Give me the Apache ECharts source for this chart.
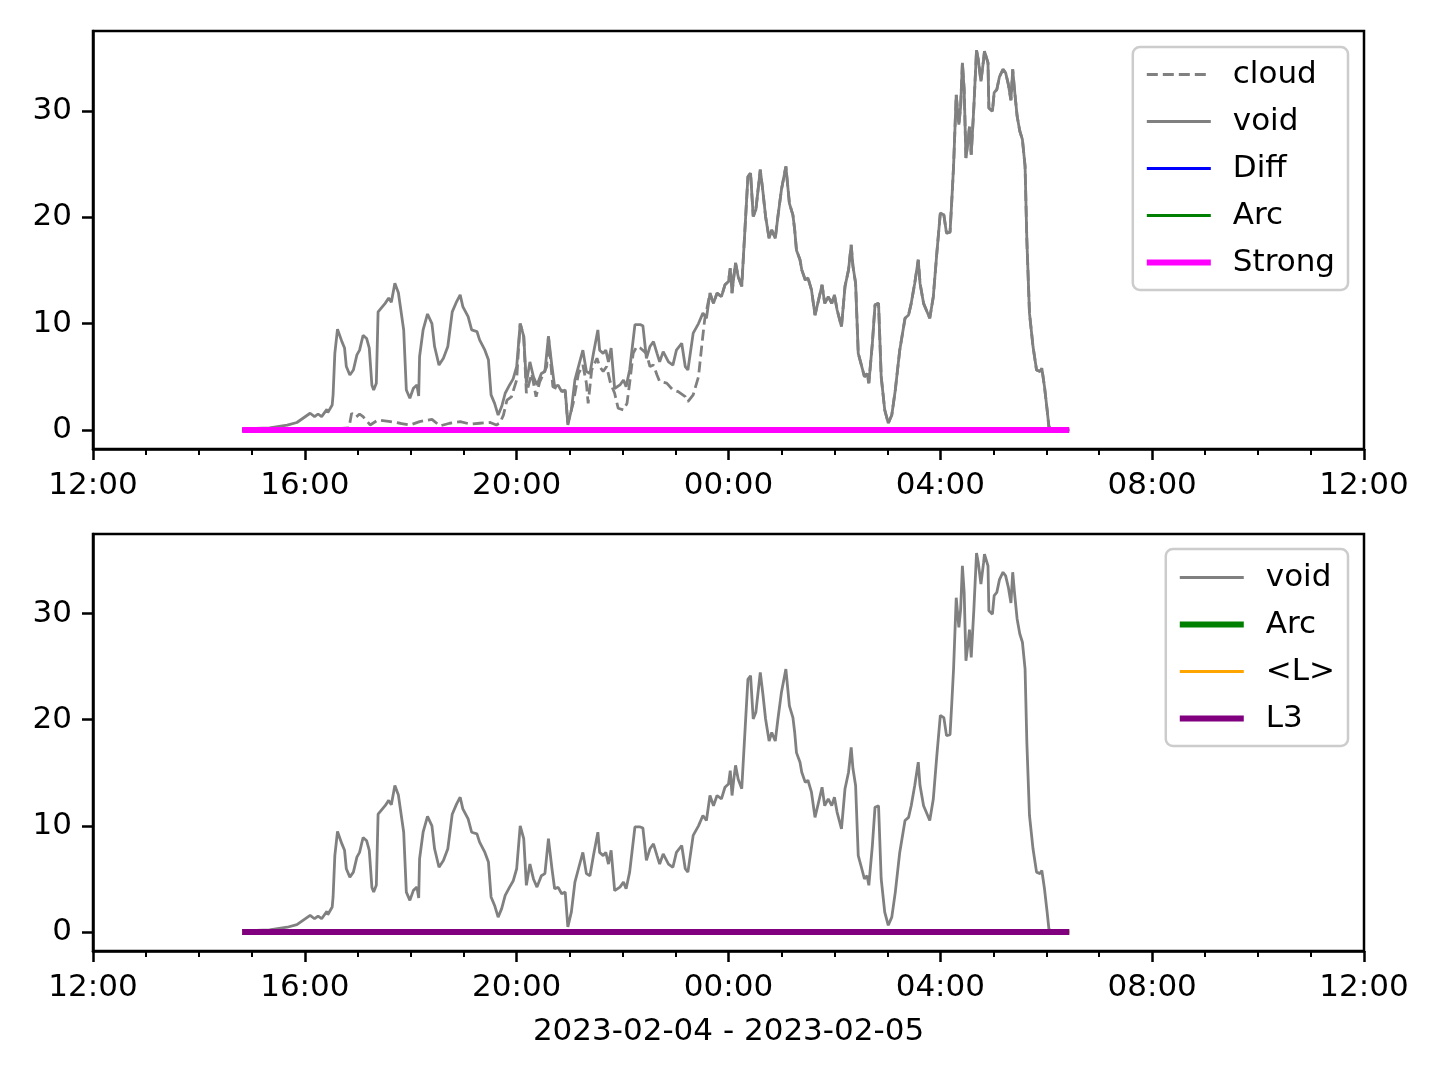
<!DOCTYPE html>
<html>
<head>
<meta charset="utf-8">
<style>
  html, body { margin: 0; padding: 0; background: #ffffff; }
  #chart { width: 1440px; height: 1080px; }
</style>
<script src="https://cdn.jsdelivr.net/npm/echarts@6/dist/echarts.min.js"></script>
</head>
<body>
<div id="chart"></div>
<script>
// ---------- data (clock times, 2023-02-04 12:00 -> 2023-02-05 12:00) ----------
const xTickLabels = ['12:00', '16:00', '20:00', '00:00', '04:00', '08:00', '12:00'];
const yTickValues = [0, 10, 20, 30];

const voidTimes = [
  '14:49','15:20','15:40','15:51','16:06','16:11','16:15','16:19','16:25','16:26',
  '16:31','16:32','16:34','16:37','16:42','16:45','16:47','16:51','16:55','16:59',
  '17:02','17:06','17:10','17:13','17:16','17:18','17:21','17:23','17:27','17:31',
  '17:35','17:38','17:42','17:46','17:52','17:55','17:59','18:03','18:07','18:09',
  '18:10','18:14','18:19','18:24','18:27','18:32','18:37','18:42','18:47','18:52',
  '18:56','18:59','19:05','19:09','19:15','19:18','19:24','19:28','19:31','19:35',
  '19:39','19:43','19:47','19:52','19:56','20:00','20:04','20:08','20:11','20:15',
  '20:19','20:23','20:28','20:32','20:36','20:40','20:43','20:47','20:51','20:55',
  '20:58','21:02','21:06','21:10','21:15','21:19','21:23','21:27','21:32','21:34',
  '21:38','21:41','21:44','21:47','21:51','21:57','22:01','22:04','22:08','22:14',
  '22:20','22:23','22:27','22:31','22:35','22:39','22:42','22:46','22:52','22:57',
  '23:01','23:07','23:11','23:14','23:20','23:26','23:31','23:35','23:39','23:43',
  '23:47','23:52','23:56','00:00','00:02','00:04','00:06','00:08','00:11','00:15',
  '00:19','00:22','00:25','00:28','00:31','00:36','00:39','00:42','00:46','00:49',
  '00:53','00:56','01:00','01:05','01:09','01:13','01:15','01:17','01:21','01:23',
  '01:27','01:30','01:34','01:38','01:42','01:46','01:49','01:53','01:57','02:00',
  '02:03','02:08','02:12','02:16','02:19','02:21','02:24','02:27','02:31','02:34',
  '02:37','02:39','02:43','02:46','02:50','02:53','02:57','03:01','03:05','03:09',
  '03:14','03:20','03:24','03:27','03:31','03:35','03:37','03:41','03:44','03:48',
  '03:52','03:56','04:00','04:04','04:07','04:11','04:13','04:15','04:18','04:21',
  '04:23','04:25','04:27','04:29','04:32','04:33','04:35','04:38','04:41','04:43',
  '04:46','04:49','04:50','04:54','04:55','04:59','05:01','05:04','05:07','05:11',
  '05:14','05:17','05:20','05:22','05:24','05:27','05:30','05:33','05:36','05:38',
  '05:41','05:45','05:49','05:53','05:55','05:58','06:01','06:03','06:06','06:26'
];
const voidValues = [
  0.1, 0.2, 0.45, 0.7, 1.57, 1.25, 1.5, 1.25, 1.94, 1.63,
  2.35, 3.3, 7.2, 9.47, 8.3, 7.7, 5.96, 5.17, 5.64, 7.06,
  7.5, 8.9, 8.6, 7.7, 4.2, 3.76, 4.4, 11.1, 11.5, 11.9,
  12.4, 12.0, 13.8, 12.9, 9.4, 3.76, 2.98, 3.92, 4.23, 3.2,
  6.9, 9.4, 10.9, 10.0, 7.84, 6.1, 6.74, 7.84, 11.1, 12.07,
  12.7, 11.6, 10.66, 9.4, 9.25, 8.47, 7.5, 6.6, 3.3, 2.5,
  1.4, 2.2, 3.45, 4.23, 4.8, 5.96, 10.0, 8.8, 4.4, 6.4,
  5.0, 4.23, 5.3, 5.5, 8.8, 5.96, 4.07, 4.2, 3.6, 3.76,
  0.47, 1.9, 4.7, 5.96, 7.5, 5.5, 5.3, 7.2, 9.4, 7.5,
  7.2, 7.5, 6.4, 7.7, 3.9, 4.23, 4.7, 4.07, 5.64, 9.9,
  9.9, 9.8, 6.74, 7.84, 8.3, 7.2, 6.4, 7.36, 6.4, 6.1,
  7.5, 8.15, 5.96, 5.64, 9.1, 10.0, 10.98, 10.5, 12.86, 11.9,
  12.86, 12.54, 13.64, 13.95, 15.2, 12.86, 14.4, 15.7, 14.4, 13.5,
  19.4, 23.8, 24.15, 20.07, 20.7, 24.46, 22.4, 20.07, 18.0, 18.8,
  18.0, 20.07, 22.6, 24.77, 21.3, 20.2, 18.8, 16.9, 16.0, 15.05,
  14.1, 14.3, 13.17, 10.8, 12.2, 13.64, 11.9, 12.54, 11.9, 12.7,
  11.3, 9.72, 13.5, 15.05, 17.4, 15.4, 13.8, 7.2, 5.96, 5.0,
  5.3, 4.4, 8.15, 11.76, 11.9, 5.0, 1.88, 0.63, 1.4, 3.76,
  7.5, 10.5, 10.8, 11.9, 13.8, 16.0, 13.8, 11.9, 11.3, 10.5,
  12.5, 16.6, 20.4, 20.2, 18.5, 18.6, 21.6, 24.8, 31.5, 28.7,
  30.4, 34.5, 32.0, 25.56, 27.6, 28.5, 25.87, 30.4, 35.7, 34.8,
  32.77, 34.8, 35.6, 34.5, 30.26, 29.95, 31.7, 32.0, 33.2, 33.9,
  33.56, 32.5, 31.0, 33.9, 32.0, 29.5, 28.1, 27.3, 24.8, 17.9,
  10.98, 7.84, 5.64, 5.5, 5.8, 4.07, 1.88, 0.3, 0, 0
];

// cloud differs from void until 23:33, afterwards it lies on the void curve
const cloudEarlyTimes = [
  '14:49','16:34','16:50','16:53','16:58','17:02','17:06','17:14','17:23','17:37',
  '17:48','17:59','18:10','18:24','18:33','18:44','18:56','19:07','19:18','19:30',
  '19:37','19:41','19:45','19:49','19:54','20:00','20:02','20:04','20:08','20:11',
  '20:17','20:22','20:26','20:34','20:36','20:41','20:49','20:55','20:58','21:04',
  '21:10','21:15','21:19','21:21','21:25','21:31','21:34','21:38','21:42','21:46',
  '21:51','21:55','22:01','22:05','22:08','22:12','22:16','22:20','22:27','22:31',
  '22:35','22:39','22:42','22:50','22:57','23:03','23:11','23:14','23:20','23:26',
  '23:30','23:33'
];
const cloudEarlyValues = [
  0, 0.1, 0.2, 1.57, 1.2, 1.5, 1.25, 0.47, 0.94, 0.78,
  0.63, 0.47, 0.78, 1.0, 0.38, 0.63, 0.78, 0.56, 0.63, 0.7,
  0.47, 0.65, 1.4, 2.8, 3.1, 4.7, 7.5, 10.0, 8.8, 3.45,
  5.3, 3.13, 4.5, 5.96, 8.8, 4.07, 3.76, 3.6, 0.63, 2.5,
  5.3, 6.1, 4.4, 2.5, 5.64, 6.74, 5.96, 5.5, 5.96, 4.5,
  3.45, 2.04, 1.88, 2.5, 4.4, 7.2, 7.84, 7.7, 7.2, 5.96,
  6.1, 5.17, 4.55, 4.4, 3.76, 3.6, 3.13, 2.66, 3.3, 5.0,
  8.15, 10.35
];
const cloudJoinTime = '23:35';

// flat series (all zero over the record)
const flatTimes = ['14:49', '06:26'];
const diffValues = [0, 0];
const arcValues = [0, 0];
const strongValues = [0, 0];
const meanLValues = [0, 0];
const l3Values = [0, 0];

// ---------- helpers ----------
function hoursSinceNoon(t) {
  const p = t.split(':').map(Number);
  let h = p[0] + p[1] / 60 - 12;
  if (h < 0) h += 24;
  return h;
}
function pairs(times, values) {
  return times.map((t, i) => [hoursSinceNoon(t), values[i]]);
}
const joinIdx = voidTimes.indexOf(cloudJoinTime);
const cloudTimes = cloudEarlyTimes.concat(voidTimes.slice(joinIdx));
const cloudValues = cloudEarlyValues.concat(voidValues.slice(joinIdx));

const FONT = 'DejaVu Sans';
const GRAY = '#808080';

function xAxis(gridIndex, withName) {
  const a = {
    type: 'value', gridIndex: gridIndex, min: 0, max: 24, interval: 4,
    axisLine: { show: true, onZero: false, lineStyle: { color: '#000', width: 2.5 } },
    axisTick: { show: true, length: 11, lineStyle: { color: '#000', width: 2.5 } },
    minorTick: { show: true, splitNumber: 4, length: 6, lineStyle: { color: '#000', width: 2 } },
    splitLine: { show: false }, minorSplitLine: { show: false },
    axisLabel: {
      fontSize: 31, fontFamily: FONT, color: '#000', margin: 21,
      formatter: function (v) { return xTickLabels[Math.round(v / 4)]; }
    }
  };
  if (withName) {
    a.name = '2023-02-04 - 2023-02-05';
    a.nameLocation = 'middle';
    a.nameGap = 65;
    a.nameTextStyle = { fontSize: 31, fontFamily: FONT, color: '#000' };
  }
  return a;
}
function yAxis(gridIndex) {
  return {
    type: 'value', gridIndex: gridIndex, min: -1.79, max: 37.5,
    axisLine: { show: true, lineStyle: { color: '#000', width: 2.5 } },
    axisTick: { show: true, length: 11, customValues: yTickValues, lineStyle: { color: '#000', width: 2.5 } },
    splitLine: { show: false },
    axisLabel: { fontSize: 31, fontFamily: FONT, color: '#000', margin: 21, customValues: yTickValues }
  };
}
function line(name, times, values, color, width, idx, extra) {
  return {
    name: name, type: 'line', xAxisIndex: idx, yAxisIndex: idx,
    data: pairs(times, values), showSymbol: false, symbol: 'none',
    lineStyle: Object.assign({ color: color, width: width }, extra || {}),
    itemStyle: { color: color }, emphasis: { disabled: true }, animation: false
  };
}
const legendBase = {
  orient: 'vertical', right: 92, itemWidth: 64, itemHeight: 31, itemGap: 16,
  backgroundColor: 'rgba(255,255,255,0.8)',
  borderColor: '#cccccc', borderWidth: 2.5, borderRadius: 7,
  textStyle: { fontSize: 31, fontFamily: FONT, color: '#000', padding: [0, 0, 0, 17], lineHeight: 31 },
  itemStyle: { opacity: 0 },
  lineStyle: { width: 'inherit' }, selectedMode: false
};

const option = {
  backgroundColor: '#ffffff',
  animation: false,
  grid: [
    { left: 93, right: 76, top: 31, height: 418, show: true, borderColor: '#000', borderWidth: 2.5, backgroundColor: 'transparent' },
    { left: 93, right: 76, top: 534, height: 417, show: true, borderColor: '#000', borderWidth: 2.5, backgroundColor: 'transparent' }
  ],
  xAxis: [xAxis(0, false), xAxis(1, true)],
  yAxis: [yAxis(0), yAxis(1)],
  legend: [
    Object.assign({}, legendBase, {
      top: 47, padding: [12, 13, 12, 11],
      data: [
        { name: 'cloud', lineStyle: { width: 2.8 } },
        { name: 'void', lineStyle: { width: 2.8 } },
        { name: 'Diff', lineStyle: { width: 3 } },
        { name: 'Arc', lineStyle: { width: 3 } },
        { name: 'Strong', lineStyle: { width: 6 } }
      ]
    }),
    Object.assign({}, legendBase, {
      top: 549, padding: [13, 13, 12, 11],
      data: [
        { name: 'void', lineStyle: { width: 2.8 } },
        { name: 'Arc', lineStyle: { width: 6, color: '#008000' } },
        { name: '<L>', lineStyle: { width: 3 } },
        { name: 'L3', lineStyle: { width: 6 } }
      ]
    })
  ],
  series: [
    line('cloud', cloudTimes, cloudValues, GRAY, 2.8, 0, { type: [11, 5] }),
    line('void', voidTimes, voidValues, GRAY, 2.8, 0),
    line('Diff', flatTimes, diffValues, '#0000ff', 3, 0),
    line('Arc', flatTimes, arcValues, '#008000', 3, 0),
    line('Strong', flatTimes, strongValues, '#ff00ff', 6, 0),
    line('void', voidTimes, voidValues, GRAY, 2.8, 1),
    line('Arc', flatTimes, arcValues, '#008000', 6, 1),
    line('<L>', flatTimes, meanLValues, '#ffa500', 3, 1),
    line('L3', flatTimes, l3Values, '#800080', 6, 1)
  ]
};

const chart = echarts.init(document.getElementById('chart'), null, { renderer: 'canvas' });
chart.setOption(option);
</script>
</body>
</html>
